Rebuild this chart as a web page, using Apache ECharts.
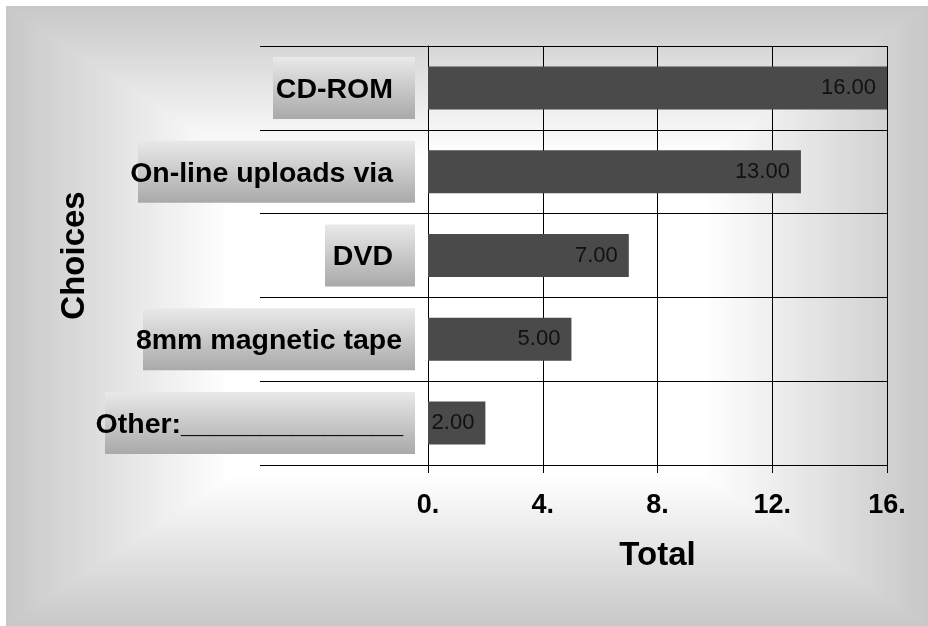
<!DOCTYPE html>
<html>
<head>
<meta charset="utf-8">
<script src="https://cdn.jsdelivr.net/npm/echarts@6/dist/echarts.min.js"></script>
<style>
  html, body { margin: 0; padding: 0; background: #fff; }
  #chart { width: 928px; height: 626px; }
</style>
</head>
<body>
<div id="chart"></div>
<script>
// Survey answers: how submissions are delivered
const categories = ['CD-ROM', 'On-line uploads via', 'DVD', '8mm magnetic tape', 'Other:______________'];
const totals = [16, 13, 7, 5, 2];
const xTickValues = [0, 4, 8, 12, 16];
const xTickLabels = ['0.', '4.', '8.', '12.', '16.'];

const FONT = '"Liberation Sans", Arial, Helvetica, sans-serif';

// Category label plates: overall plate width and right inner padding (px)
const plateWidth = [142, 277, 90, 272, 310];
const platePadRight = [22, 22, 22, 13, 12];

const chart = echarts.init(document.getElementById('chart'), null, { renderer: 'canvas' });

// Backdrop: rectangular fade from a grey rim toward a white core
const frame = { x: 6, y: 6, w: 922, h: 620 };
const steps = 64, reach = 0.48;
const backdrop = [];
for (let i = 0; i <= steps; i++) {
  const t = i / steps;
  const ix = t * reach * frame.w / 2;
  const iy = t * reach * frame.h / 2;
  const c = Math.round(200 + t * 55);
  backdrop.push({
    type: 'rect',
    silent: true,
    z: -10,
    shape: { x: frame.x + ix, y: frame.y + iy, width: frame.w - 2 * ix, height: frame.h - 2 * iy },
    style: { fill: 'rgb(' + c + ',' + c + ',' + c + ')' }
  });
}

const plateFill = new echarts.graphic.LinearGradient(0, 0, 0, 1, [
  { offset: 0, color: '#e9e9e9' },
  { offset: 1, color: '#a9a9a9' }
]);

const rich = {};
categories.forEach(function (c, i) {
  rich['c' + i] = {
    width: plateWidth[i] - platePadRight[i],
    height: 58,
    lineHeight: 58,
    padding: [4, platePadRight[i], 0, 0],
    align: 'right',
    verticalAlign: 'middle',
    backgroundColor: plateFill,
    fontFamily: FONT,
    fontWeight: 'bold',
    fontSize: 28.5,
    color: '#000'
  };
});

const option = {
  animation: false,
  backgroundColor: 'transparent',
  graphic: { elements: backdrop },
  grid: { left: 428, right: 41, top: 46, bottom: 161, containLabel: false },
  xAxis: {
    type: 'value',
    min: 0,
    max: 16,
    interval: 4,
    name: 'Total',
    nameLocation: 'middle',
    nameGap: 74,
    nameMoveOverlap: false,
    nameTextStyle: { fontFamily: FONT, fontSize: 33, fontWeight: 'bold', color: '#000' },
    axisLine: { show: true, lineStyle: { color: '#000', width: 1 } },
    axisTick: { show: true, length: 8, lineStyle: { color: '#000', width: 1 } },
    splitLine: { show: true, lineStyle: { color: '#000', width: 1 } },
    axisLabel: {
      margin: 27,
      fontFamily: FONT,
      fontSize: 27,
      fontWeight: 'bold',
      color: '#000',
      formatter: function (v) {
        const k = xTickValues.indexOf(v);
        return k >= 0 ? xTickLabels[k] : '';
      }
    }
  },
  yAxis: {
    type: 'category',
    inverse: true,
    data: categories,
    name: 'Choices',
    nameLocation: 'middle',
    nameGap: 337,
    nameRotate: 90,
    nameMoveOverlap: false,
    nameTextStyle: { fontFamily: FONT, fontSize: 33, fontWeight: 'bold', color: '#000' },
    axisLine: { show: true, lineStyle: { color: '#000', width: 1 } },
    axisTick: { show: true, length: 168, lineStyle: { color: '#000', width: 1 } },
    splitLine: { show: true, lineStyle: { color: '#000', width: 1 } },
    axisLabel: {
      interval: 0,
      margin: 13,
      formatter: function (v, i) { return '{c' + i + '|' + v + '}'; },
      rich: rich
    }
  },
  series: [{
    type: 'bar',
    data: totals,
    barWidth: 43,
    itemStyle: { color: '#4a4a4a' },
    label: {
      show: true,
      position: 'insideRight',
      distance: 11,
      fontFamily: FONT,
      fontSize: 22,
      color: '#111',
      formatter: function (p) { return p.value.toFixed(2); }
    }
  }]
};

chart.setOption(option);
</script>
</body>
</html>
